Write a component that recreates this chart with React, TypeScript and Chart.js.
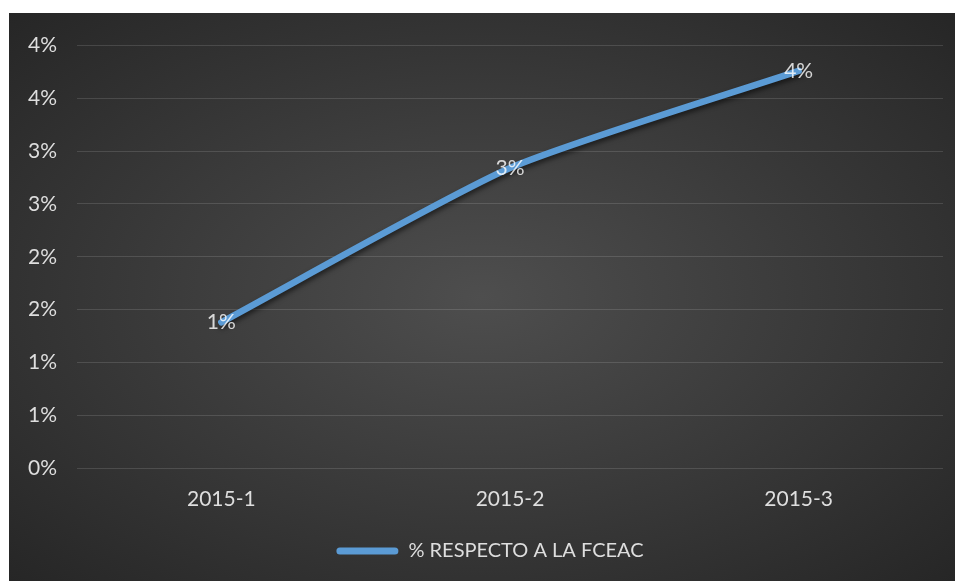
import React, { useEffect, useRef } from "react";
import { Chart, registerables } from "chart.js";

Chart.register(...registerables);

const categories = ["2015-1", "2015-2", "2015-3"];
const seriesName = "% RESPECTO A LA FCEAC";
const seriesValues = [1.38, 2.84, 3.76];
const yTickValues = [0, 0.5, 1, 1.5, 2, 2.5, 3, 3.5, 4];

const FONT = "Lato";
const TEXT = "#dedede";
const LINE = "#5B9BD5";

const shadowPlugin = {
  id: "lineShadow",
  beforeDatasetDraw(chart: any) {
    const ctx = chart.ctx;
    ctx.save();
    ctx.shadowColor = "rgba(0,0,0,0.55)";
    ctx.shadowBlur = 5;
    ctx.shadowOffsetX = 1;
    ctx.shadowOffsetY = 3;
  },
  afterDatasetDraw(chart: any) {
    chart.ctx.restore();
  },
};

const valueLabelPlugin = {
  id: "valueLabels",
  afterDatasetsDraw(chart: any) {
    const ctx = chart.ctx;
    const meta = chart.getDatasetMeta(0);
    const data = chart.data.datasets[0].data as number[];
    ctx.save();
    ctx.font = `21px ${FONT}`;
    ctx.fillStyle = "rgba(255,255,255,0.8)";
    ctx.textAlign = "center";
    ctx.textBaseline = "middle";
    meta.data.forEach((el: any, i: number) => {
      ctx.fillText(Math.round(data[i]) + "%", el.x, el.y);
    });
    ctx.restore();
  },
};

const legendShiftPlugin = {
  id: "legendShift",
  afterLayout(chart: any) {
    const lg = chart.legend;
    if (lg) {
      lg.left += 14;
      lg.right += 14;
    }
  },
};

export default function App() {
  const ref = useRef<HTMLCanvasElement>(null);

  useEffect(() => {
    if (!ref.current) return;
    const chart = new Chart(ref.current, {
      type: "line",
      data: {
        labels: categories,
        datasets: [
          {
            label: seriesName,
            data: seriesValues,
            borderColor: LINE,
            backgroundColor: LINE,
            borderWidth: 6.5,
            pointRadius: 0,
            pointHoverRadius: 0,
            tension: 0.2,
            borderCapStyle: "round",
            borderJoinStyle: "round",
            fill: false,
          },
        ],
      },
      options: {
        animation: false,
        responsive: false,
        devicePixelRatio: 1,
        layout: { padding: { left: 0, right: 12, top: 28, bottom: 10 } },
        scales: {
          x: {
            offset: true,
            grid: { display: false },
            border: { display: false },
            ticks: { color: TEXT, font: { family: FONT, size: 21 }, padding: 11 },
            afterFit: (s: any) => {
              s.height = 63;
            },
          },
          y: {
            min: 0,
            max: 4,
            afterBuildTicks: (s: any) => {
              s.ticks = yTickValues.map((v) => ({ value: v }));
            },
            ticks: {
              color: TEXT,
              font: { family: FONT, size: 21 },
              padding: 20,
              callback: (v: any) => Math.round(Number(v)) + "%",
            },
            grid: { color: "rgba(255,255,255,0.13)", drawTicks: false, lineWidth: 1 },
            border: { display: false },
            afterFit: (s: any) => {
              s.width = 68;
            },
          },
        },
        plugins: {
          legend: {
            position: "bottom",
            labels: {
              padding: 10,
              boxWidth: 62,
              boxHeight: 7,
              font: { family: FONT, size: 20 },
              color: TEXT,
              generateLabels: () => [
                {
                  text: seriesName,
                  fillStyle: LINE,
                  strokeStyle: LINE,
                  lineWidth: 0,
                  borderRadius: 3.5,
                  hidden: false,
                  datasetIndex: 0,
                  fontColor: TEXT,
                } as any,
              ],
            },
          },
          tooltip: { enabled: false },
        },
      },
      plugins: [shadowPlugin, valueLabelPlugin, legendShiftPlugin],
    });
    return () => chart.destroy();
  }, []);

  return (
    <div
      style={{
        position: "absolute",
        left: 9,
        top: 13,
        width: 946,
        height: 568,
        background: "radial-gradient(ellipse at 50% 50%, #4e4e4e 0%, #3c3c3c 45%, #262626 100%)",
      }}
    >
      <canvas ref={ref} width={946} height={568} style={{ display: "block" }} />
    </div>
  );
}
